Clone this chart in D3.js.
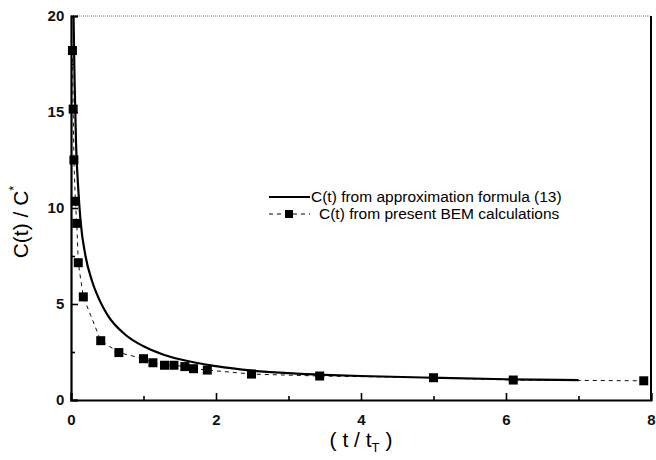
<!DOCTYPE html>
<html>
<head>
<meta charset="utf-8">
<script src="https://cdn.jsdelivr.net/npm/d3@7"></script>
<style>
  body { margin: 0; background: #fff; }
  text { font-family: "Liberation Sans", Arial, sans-serif; }
</style>
</head>
<body>
<div id="chart"></div>
<script>
// approximation formula (13)
const approxT = [0.035, 0.05, 0.07, 0.1, 0.13, 0.2, 0.29, 0.4, 0.5, 0.75, 1.0, 1.25, 1.5, 2.0, 2.5, 3.0, 3.5, 4.0, 5.0, 6.0, 7.0];
const approxC = [20, 16.5, 13.3, 11.0, 9.4, 7.5, 6.2, 5.15, 4.45, 3.4, 2.8, 2.4, 2.12, 1.76, 1.53, 1.4, 1.31, 1.25, 1.16, 1.08, 1.04];

// present BEM calculations (square markers)
const bemT = [0.02, 0.03, 0.04, 0.06, 0.08, 0.1, 0.17, 0.41, 0.66, 1.0, 1.13, 1.29, 1.42, 1.57, 1.69, 1.88, 2.49, 3.43, 5.0, 6.1, 7.9];
const bemC = [18.2, 15.15, 12.5, 10.35, 9.2, 7.15, 5.37, 3.09, 2.47, 2.15, 1.94, 1.81, 1.81, 1.74, 1.63, 1.56, 1.35, 1.25, 1.16, 1.04, 1.0];

const xTicks = [0, 2, 4, 6, 8];
const yTicks = [0, 5, 10, 15, 20];
const legendLabels = ["C(t) from approximation formula (13)", "C(t) from present BEM calculations"];

const width = 656, height = 460;
const margin = { left: 71, right: 5, top: 16, bottom: 60 };

const svg = d3.select("#chart").append("svg")
  .attr("width", width)
  .attr("height", height);

const x = d3.scaleLinear().domain([0, 8]).range([margin.left, width - margin.right]);
const y = d3.scaleLinear().domain([0, 20]).range([height - margin.bottom, margin.top]);

const approx = approxT.map((t, i) => [t, approxC[i]]);
const bem = bemT.map((t, i) => [t, bemC[i]]);

// frame: dotted top, solid right
svg.append("line")
  .attr("x1", x(0)).attr("x2", x(8)).attr("y1", y(20)).attr("y2", y(20))
  .attr("stroke", "#777").attr("stroke-width", 1).attr("stroke-dasharray", "1,1");
svg.append("line")
  .attr("x1", x(8)).attr("x2", x(8)).attr("y1", y(20)).attr("y2", y(0))
  .attr("stroke", "#000").attr("stroke-width", 2);

// axes, ticks pointing inward
const xAxis = svg.append("g")
  .attr("transform", `translate(0,${y(0)})`)
  .call(d3.axisBottom(x).tickValues(d3.range(0, 9, 1)).tickSize(-7).tickFormat(d => xTicks.includes(d) ? d : ""));
xAxis.selectAll(".tick line").attr("y2", d => d % 2 === 0 ? -7 : -4);

const yAxis = svg.append("g")
  .attr("transform", `translate(${x(0)},0)`)
  .call(d3.axisLeft(y).tickValues(d3.range(0, 20.1, 2.5)).tickSize(-7).tickFormat(d => yTicks.includes(d) ? d : ""));
yAxis.selectAll(".tick line").attr("x2", d => d % 5 === 0 ? 7 : 4);

[xAxis, yAxis].forEach(g => {
  g.select(".domain").attr("stroke-width", 2.2);
  g.selectAll(".tick line").attr("stroke-width", 1.6);
  g.selectAll(".tick text")
    .attr("font-size", 15)
    .attr("font-weight", "bold")
    .attr("font-family", "'Liberation Sans', Arial, sans-serif")
    .attr("fill", "#111");
});
xAxis.selectAll(".tick text").attr("dy", "1.45em");
yAxis.selectAll(".tick text").attr("dx", "-0.25em");

// curves
const line = d3.line().x(d => x(d[0])).y(d => y(d[1]));

svg.append("path")
  .datum(bem)
  .attr("fill", "none")
  .attr("stroke", "#111")
  .attr("stroke-width", 1)
  .attr("stroke-dasharray", "4,4")
  .attr("d", line);

svg.append("path")
  .datum(approx)
  .attr("fill", "none")
  .attr("stroke", "#000")
  .attr("stroke-width", 2.2)
  .attr("d", line.curve(d3.curveMonotoneX));

const sq = 9;
svg.selectAll(".bem")
  .data(bem)
  .enter()
  .append("rect")
  .attr("class", "bem")
  .attr("x", d => x(d[0]) - sq / 2)
  .attr("y", d => y(d[1]) - sq / 2)
  .attr("width", sq)
  .attr("height", sq)
  .attr("fill", "#000");

// legend
const lg = svg.append("g").attr("transform", "translate(269,197)");
lg.append("line").attr("x1", 0).attr("x2", 41).attr("y1", 0).attr("y2", 0)
  .attr("stroke", "#000").attr("stroke-width", 2);
lg.append("text").attr("x", 42).attr("y", 5).attr("font-size", 15.5).text(legendLabels[0]);
lg.append("line").attr("x1", 0).attr("x2", 41).attr("y1", 17).attr("y2", 17)
  .attr("stroke", "#000").attr("stroke-width", 1).attr("stroke-dasharray", "4,4");
lg.append("rect").attr("x", 16).attr("y", 13).attr("width", 8).attr("height", 8).attr("fill", "#000");
lg.append("text").attr("x", 50).attr("y", 22).attr("font-size", 15.5).text(legendLabels[1]);

// axis titles
const xt = svg.append("text")
  .attr("x", x(4)).attr("y", 447)
  .attr("text-anchor", "middle")
  .attr("font-size", 21);
xt.append("tspan").text("( t / t");
xt.append("tspan").attr("font-size", 13).attr("dy", 5).text("T");
xt.append("tspan").attr("dy", -5).text(" )");

const yt = svg.append("text")
  .attr("transform", "translate(28,222) rotate(-90)")
  .attr("text-anchor", "middle")
  .attr("font-size", 21);
yt.append("tspan").text("C(t) / C");
yt.append("tspan").attr("font-size", 13).attr("dy", -10).text("*");
</script>
</body>
</html>
